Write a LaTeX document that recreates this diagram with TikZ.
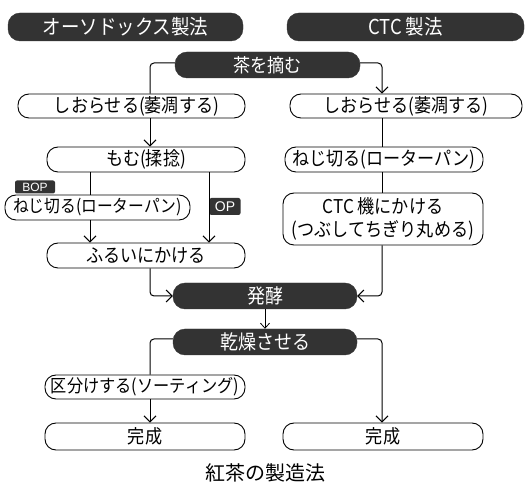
\documentclass[tikz,border=0pt]{standalone}
\usepackage{fontspec}
\setmainfont{Noto Sans CJK JP}
\newfontfamily\nfont{Noto Sans CJK JP}[FakeStretch=0.9]
\newfontfamily\lfont{Liberation Sans}
\usetikzlibrary{arrows.meta,calc}
\begin{document}
\begin{tikzpicture}[x=1pt,y=-1pt,
  darkpill/.style={fill=black!80,draw=black!80,text=white,rounded corners=12pt,inner sep=0pt,font=\nfont\fontsize{20}{22}\selectfont},
  wbox/.style={draw=black,line width=0.9pt,fill=white,rounded corners=11pt,inner sep=0pt,font=\nfont\fontsize{19}{21}\selectfont,align=center},
  tag/.style={fill=black!80,text=white,rounded corners=2pt,inner sep=0pt,font=\lfont\fontsize{12}{13}\selectfont},
  conn/.style={line width=1pt,rounded corners=4pt},
  arr/.style={conn,-{Straight Barb[length=6pt,width=12pt]}},
  sarr/.style={line width=0.8pt,-{Straight Barb[length=5pt,width=9pt]}}
]
\useasboundingbox (0,0) rectangle (531,486);
% headers
\node[darkpill,minimum width=235pt,minimum height=28pt,font=\nfont\fontsize{20.5}{22}\selectfont] (h1) at (125.5,27) {オーソドックス製法};
\node[darkpill,minimum width=237pt,minimum height=28pt,font=\nfont\fontsize{20.5}{22}\selectfont] (h2) at (405.5,27) {CTC 製法};
% main dark nodes
\node[darkpill,minimum width=185pt,minimum height=26pt,font=\nfont\fontsize{19}{21}\selectfont] (tsumu) at (267.5,65) {茶を摘む};
\node[darkpill,minimum width=184pt,minimum height=26pt] (hakko) at (265,296) {発酵};
\node[darkpill,minimum width=184pt,minimum height=26pt] (kanso) at (265,342) {乾燥させる};
% left column
\node[wbox,minimum width=227pt,minimum height=24pt] (shioL) at (131.5,106) {\hspace*{10pt}しおらせる(萎凋する)};
\node[wbox,minimum width=198pt,minimum height=25pt] (momu) at (146,159.5) {もむ(揉捻)};
\node[wbox,minimum width=185pt,minimum height=25pt,font=\nfont\fontsize{17.5}{20}\selectfont] (nejiL) at (97.5,207.5) {ねじ切る(ローターパン)};
\node[wbox,minimum width=198pt,minimum height=25pt] (furui) at (146,255.5) {ふるいにかける};
\node[wbox,minimum width=200pt,minimum height=24pt,font=\nfont\fontsize{18}{20}\selectfont] (kubun) at (145,387) {区分けする(ソーティング)};
\node[wbox,minimum width=200pt,minimum height=27pt] (kanL) at (145,436.5) {完成};
% right column
\node[wbox,minimum width=232pt,minimum height=24pt] (shioR) at (406,106) {しおらせる(萎凋する)};
\node[wbox,minimum width=198pt,minimum height=25pt] (nejiR) at (384,159.5) {ねじ切る(ローターパン)};
\node[wbox,minimum width=200pt,minimum height=52pt,font=\nfont\fontsize{19}{23}\selectfont] (ctc) at (383,219) {CTC 機にかける\\(つぶしてちぎり丸める)};
\node[wbox,minimum width=200pt,minimum height=27pt] (kanR) at (383,436.5) {完成};
% tags
\node[tag,minimum width=40pt,minimum height=13pt] (bop) at (35,187) {BOP};
\node[tag,minimum width=31pt,minimum height=17pt,font=\lfont\fontsize{14}{15}\selectfont] (op) at (225,206.5) {OP};
% caption
\node[font=\fontsize{20}{22}\selectfont] (cap) at (265,473) {紅茶の製造法};
% helper x positions
\coordinate (L) at (150,0);
\coordinate (R) at (382,0);
\coordinate (B) at (90,0);
\coordinate (O) at (209,0);
% connectors
\draw[conn] ([yshift=2pt]tsumu.west) -| (L |- shioL.north);
\draw[arr] ([yshift=2pt]tsumu.east) -| (R |- shioR.north);
\draw[arr] (L |- shioL.south) -- (L |- momu.north);
\draw[conn] (R |- shioR.south) -- (R |- nejiR.north);
\draw[conn] (R |- nejiR.south) -- (R |- ctc.north);
\draw[conn] (B |- momu.south) -- (B |- nejiL.north);
\draw[arr] (B |- nejiL.south) -- (B |- furui.north);
\draw[arr] (O |- momu.south) -- (O |- furui.north);
\draw[arr] (L |- furui.south) |- (hakko.west);
\draw[arr] (R |- ctc.south) |- (hakko.east);
\draw[sarr] (hakko.south) -- (kanso.north);
\draw[conn] ([yshift=3pt]kanso.west) -| (L |- kubun.north);
\draw[arr] (L |- kubun.south) -- (L |- kanL.north);
\draw[arr] ([yshift=3pt]kanso.east) -| (R |- kanR.north);
\end{tikzpicture}
\end{document}
